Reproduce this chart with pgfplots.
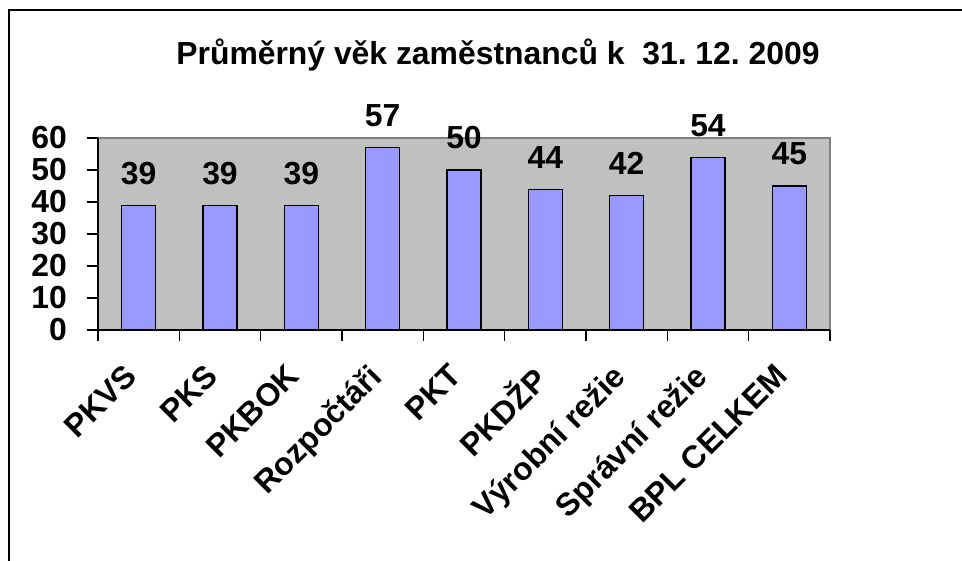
\documentclass[border=0pt]{standalone}
\usepackage{pgfplots}
\pgfplotsset{compat=1.18}
\usepackage{fontspec}
\setmainfont{Liberation Sans}
\frenchspacing
\definecolor{plotbg}{HTML}{C0C0C0}
\definecolor{barfill}{HTML}{9999FF}
\definecolor{bordergray}{HTML}{808080}
\begin{document}
\begin{tikzpicture}
\path[use as bounding box] (0,0) rectangle (962bp,561bp);
\draw[line width=2.2bp] (9bp,0) -- (9bp,551bp) -- (962bp,551bp);
\node[anchor=base, inner sep=0, font=\bfseries\fontsize{32}{36}\selectfont] at (498bp,496bp) {Průměrný věk zaměstnanců k \ 31. 12. 2009};
\begin{axis}[
  at={(98bp,231bp)}, anchor=south west,
  width=732bp, height=192bp, scale only axis,
  xmin=-0.5, xmax=8.5, ymin=0, ymax=60,
  ybar, bar width=34bp,
  axis background/.style={fill=plotbg, draw=bordergray, line width=1.5bp},
  axis x line*=bottom, axis y line*=left,
  axis line style={black, line width=1.8bp, -},
  xtick={-0.5,0.5,...,8.5},
  x tick label as interval=true,
  xticklabels={PKVS,PKS,PKBOK,Rozpočtáři,PKT,PKDŽP,Výrobní režie,Správní režie,BPL CELKEM},
  ytick={0,10,...,60},
  tick align=outside,
  major tick length=11bp,
  tick style={black, line width=1.3bp},
  xticklabel style={font=\bfseries\fontsize{32}{36}\selectfont, xshift=-16bp, yshift=-21bp, rotate=45, anchor=north east, inner sep=0pt},
  yticklabel style={font=\bfseries\fontsize{32}{36}\selectfont, anchor=east, inner sep=0pt, xshift=-20bp},
  /pgf/number format/assume math mode=true,
  nodes near coords,
  every node near coord/.append style={font=\bfseries\fontsize{32}{36}\selectfont, anchor=base, inner sep=0pt, yshift=21bp},
  clip=false,
]
\addplot[fill=barfill, draw=black, line width=1.3bp] coordinates {
(0,39) (1,39) (2,39) (3,57) (4,50) (5,44) (6,42) (7,54) (8,45)};
\end{axis}
\end{tikzpicture}
\end{document}
